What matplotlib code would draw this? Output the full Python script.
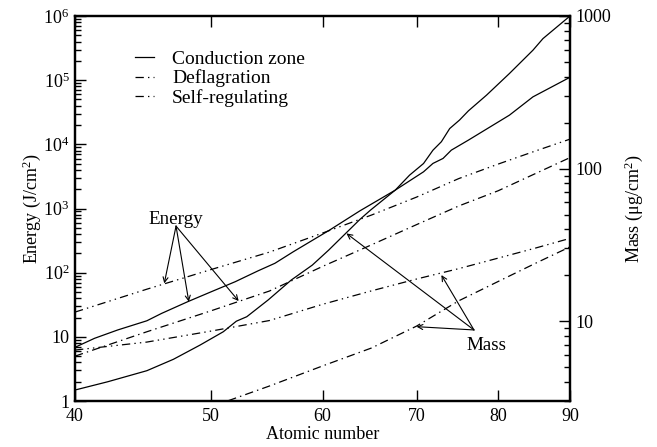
import numpy as np
import matplotlib
matplotlib.use('Agg')
import matplotlib.pyplot as plt
from matplotlib.ticker import FixedLocator, FixedFormatter, NullLocator, LogLocator, NullFormatter

plt.rcParams['font.family'] = ['Liberation Serif', 'DejaVu Serif']
plt.rcParams['mathtext.fontset'] = 'custom'
plt.rcParams['mathtext.rm'] = 'Liberation Serif'
plt.rcParams['mathtext.it'] = 'Liberation Serif:italic'
plt.rcParams['lines.scale_dashes'] = False

# energy (J/cm^2), left axis
z_energy_conduction = [40, 41.3, 42.9, 45.0, 46.1, 48.1, 50.0, 52.0, 54.0, 55.5, 57.2, 60.7,
                       63.8, 67.6, 70.8, 71.9, 73.1, 74.1, 76.2, 81.5, 84.7, 90]
energy_conduction = [6.86, 9.48, 12.8, 17.8, 23.2, 35.2, 50.4, 72.2, 107, 140, 212, 461,
                     921, 1935, 3730, 5040, 6030, 8120, 11630, 28500, 54950, 111000]

atomic_number = [40, 45, 50, 55, 60, 65, 70, 75, 80, 85, 90]
energy_deflagration = [24.3, 55.3, 112, 209, 414, 789, 1506, 2924, 4920, 7840, 12050]
energy_selfreg = [5.0, 12.0, 25.5, 51.7, 125, 271, 561, 1094, 1888, 3484, 6210]

# mass (ug/cm^2), right axis
z_mass_conduction = [40, 42.2, 45.0, 47.0, 49.1, 51.0, 52.1, 53.0, 54.9, 57.0, 59.0, 60.6,
                     63.8, 64.9, 67.6, 69.2, 70.8, 71.9, 72.9, 73.9, 75.1, 76.2, 78.5,
                     81.5, 84.7, 86.1, 90]
mass_conduction = [3.54, 4.01, 4.74, 5.63, 6.98, 8.53, 10.0, 10.7, 13.8, 18.6, 23.3, 29.2,
                   46.5, 53.4, 72.3, 90.6, 108, 132, 150, 183, 208, 239, 303,
                   420, 597, 711, 1000]
mass_deflagration = [6.47, 7.3, 8.62, 10.1, 12.9, 15.8, 18.9, 22.1, 25.9, 30.1, 34.9]
mass_selfreg = [np.nan, np.nan, 2.75, 3.76, 5.09, 6.67, 9.29, 13.6, 18.2, 23.9, 30.7]

series_names = ['Conduction zone', 'Deflagration', 'Self-regulating']

dash_dot = (0, (6, 3, 1, 3))
dash_dot_dot = (0, (6, 3, 1, 3, 1, 3))

fig = plt.figure(figsize=(6.57, 4.47), dpi=100)
ax = fig.add_axes([75 / 657, 46 / 447, 495 / 657, 385 / 447])
ax2 = ax.twinx()

lw = 0.9
l1, = ax.plot(z_energy_conduction, energy_conduction, color='black', lw=lw, ls='-')
l2, = ax.plot(atomic_number, energy_deflagration, color='black', lw=lw, ls=dash_dot_dot)
l3, = ax.plot(atomic_number, energy_selfreg, color='black', lw=lw, ls=dash_dot)

ax2.plot(z_mass_conduction, mass_conduction, color='black', lw=lw, ls='-')
ax2.plot(atomic_number, mass_deflagration, color='black', lw=lw, ls=dash_dot_dot)
ax2.plot(atomic_number, mass_selfreg, color='black', lw=lw, ls=dash_dot)

ax.set_xscale('log')
ax.set_yscale('log')
ax2.set_yscale('log')
ax.set_xlim(40, 90)
ax.set_ylim(1, 1e6)
ax2.set_ylim(3, 1000)

xt = [40, 50, 60, 70, 80, 90]
ax.xaxis.set_major_locator(FixedLocator(xt))
ax.xaxis.set_major_formatter(FixedFormatter([str(v) for v in xt]))
ax.xaxis.set_minor_locator(NullLocator())

yt = [1, 10, 1e2, 1e3, 1e4, 1e5, 1e6]
ax.yaxis.set_major_locator(FixedLocator(yt))
ax.yaxis.set_major_formatter(FixedFormatter(['1', '10', '$10^2$', '$10^3$', '$10^4$', '$10^5$', '$10^6$']))
ax.yaxis.set_minor_locator(LogLocator(base=10, subs=np.arange(2, 10)))
ax.yaxis.set_minor_formatter(NullFormatter())

ax2.yaxis.set_major_locator(FixedLocator([10, 100, 1000]))
ax2.yaxis.set_major_formatter(FixedFormatter(['10', '100', '1000']))
ax2.yaxis.set_minor_locator(LogLocator(base=10, subs=np.arange(2, 10)))
ax2.yaxis.set_minor_formatter(NullFormatter())

ax.tick_params(axis='x', which='both', direction='in', top=True, length=8, width=1, labelsize=13, pad=5)
ax.tick_params(axis='y', which='major', direction='in', length=8, width=1, labelsize=13, pad=4)
ax.tick_params(axis='y', which='minor', direction='in', length=4, width=1)
ax2.tick_params(axis='y', which='major', direction='in', length=8, width=1, labelsize=13, pad=4)
ax2.tick_params(axis='y', which='minor', direction='in', length=4, width=1)

for a in (ax, ax2):
    for s in a.spines.values():
        s.set_linewidth(1.6)

ax.set_xlabel('Atomic number', fontsize=13, labelpad=1)
ax.set_ylabel('Energy (J/cm$^2$)', fontsize=13, labelpad=0)
ax2.set_ylabel('Mass (\u03bcg/cm$^2$)', fontsize=13, labelpad=8)

ax.legend([l1, l2, l3], series_names, loc='upper left', bbox_to_anchor=(0.086, 0.957),
          frameon=False, fontsize=14, handlelength=0.95, handletextpad=0.95, labelspacing=0.1)

arrow_kw = dict(arrowstyle='->', lw=0.8, color='black', shrinkA=0, shrinkB=0, mutation_scale=9)

# Energy annotation
ax.text(47.2, 684, 'Energy', fontsize=13.7, ha='center', va='center')
for tip in [(46.3, 68.1), (48.2, 35.2), (52.3, 36.1)]:
    ax.annotate('', xy=tip, xytext=(47.2, 532), arrowprops=arrow_kw)

# Mass annotation
ax.text(78.5, 7.32, 'Mass', fontsize=13.7, ha='center', va='center')
for tip in [(62.4, 409), (72.9, 91.8), (70.0, 14.4)]:
    ax.annotate('', xy=tip, xytext=(76.9, 12.8), arrowprops=arrow_kw)

fig.savefig('out.png', dpi=100)
